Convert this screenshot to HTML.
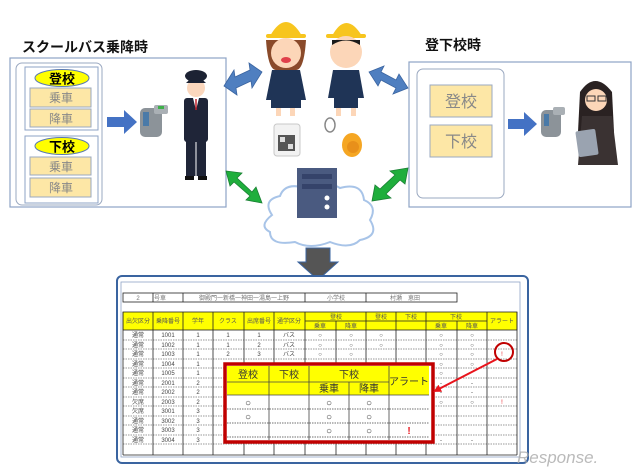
<!DOCTYPE html>
<html><head><meta charset="utf-8"><style>
html,body{margin:0;padding:0;background:#fff;}
svg{display:block;font-family:"Liberation Sans","Noto Sans CJK JP",sans-serif;}
</style></head><body>
<svg width="640" height="475" viewBox="0 0 640 475" xmlns="http://www.w3.org/2000/svg">
<defs>
<marker id="ra" markerWidth="8" markerHeight="8" refX="6" refY="4" orient="auto" markerUnits="userSpaceOnUse"><path d="M0,0 L8,4 L0,8 z" fill="#e8141c"/></marker>
</defs>
<!-- titles -->
<text x="22" y="52" font-size="14" font-weight="bold" fill="#111">スクールバス乗降時</text>
<text x="425" y="50" font-size="14" font-weight="bold" fill="#111">登下校時</text>

<!-- left box -->
<rect x="10" y="58" width="216" height="149" fill="#fff" stroke="#8ea3c6" stroke-width="1.2"/>
<rect x="16" y="63" width="86" height="142" rx="6" fill="#fff" stroke="#9aa8c0"/>
<rect x="25" y="67" width="73" height="63" fill="#fff" stroke="#8ea3c6"/>
<ellipse cx="62" cy="78" rx="27" ry="8.5" fill="#ffff00" stroke="#5a7ab0"/>
<text x="62" y="83.5" font-size="13" font-weight="bold" text-anchor="middle">登校</text>
<rect x="30" y="88" width="61" height="19" fill="#fde7a6" stroke="#9aa8c0"/>
<text x="61" y="102" font-size="12" fill="#888" text-anchor="middle">乗車</text>
<rect x="30" y="109" width="61" height="18" fill="#fde7a6" stroke="#9aa8c0"/>
<text x="61" y="123" font-size="12" fill="#888" text-anchor="middle">降車</text>
<rect x="25" y="136" width="73" height="67" fill="#fff" stroke="#8ea3c6"/>
<ellipse cx="62" cy="146" rx="27" ry="8.5" fill="#ffff00" stroke="#5a7ab0"/>
<text x="62" y="151.5" font-size="13" font-weight="bold" text-anchor="middle">下校</text>
<rect x="30" y="157" width="61" height="18" fill="#fde7a6" stroke="#9aa8c0"/>
<text x="61" y="171" font-size="12" fill="#888" text-anchor="middle">乗車</text>
<rect x="30" y="178" width="61" height="19" fill="#fde7a6" stroke="#9aa8c0"/>
<text x="61" y="192" font-size="12" fill="#888" text-anchor="middle">降車</text>
<!-- blue arrow -->
<path d="M107,117 L124,117 L124,110 L137,122 L124,134 L124,127 L107,127 z" fill="#4472c4"/>
<!-- scanner -->
<rect x="140" y="108" width="22" height="29" rx="5" fill="#8c9399"/>
<rect x="143" y="112" width="6" height="14" fill="#4a7aa8"/>
<rect x="154" y="105" width="14" height="9" rx="2" fill="#aab0b5"/>
<rect x="158" y="106" width="6" height="3" fill="#3fb04a"/>
<!-- officer -->
<ellipse cx="196" cy="76" rx="11" ry="6" fill="#1c2233"/>
<circle cx="196" cy="88" r="9" fill="#fbd7bd"/>
<path d="M186,83 Q196,72 206,83 z" fill="#1c2233"/>
<rect x="184" y="98" width="24" height="44" rx="3" fill="#1f2538"/>
<path d="M193,98 L196,110 L199,98 z" fill="#fff"/>
<line x1="196" y1="99" x2="196" y2="110" stroke="#c0202a" stroke-width="1.5"/>
<rect x="186" y="140" width="20" height="36" fill="#1f2538"/>
<line x1="196" y1="142" x2="196" y2="176" stroke="#fff" stroke-width="1"/>
<rect x="185" y="176" width="9" height="4" fill="#111"/><rect x="198" y="176" width="9" height="4" fill="#111"/>

<!-- diagonal arrows -->
<g fill="#4f7fc0" stroke="#3a64a0" stroke-width="0.8">
<path d="M224,86 L234,70 L235,77 L250,70 L249,63 L262,72 L252,88 L251,81 L236,88 L237,95 z"/>
<path d="M369,72 L384,66 L381,72 L396,80 L399,74 L408,88 L393,94 L396,88 L381,80 L378,86 z"/>
</g>
<g fill="#1fae3c" stroke="#197f33" stroke-width="0.8">
<path d="M226,171 L242,173 L237,178 L252,192 L256,187 L262,203 L246,200 L250,196 L234,182 L230,186 z"/>
<path d="M408,168 L405,184 L400,180 L386,194 L391,198 L372,201 L375,185 L380,189 L395,175 L390,171 z"/>
</g>

<!-- children -->
<g>
<path d="M270,36 Q286,8 302,36 z" fill="#f7c51e"/><rect x="266" y="34" width="40" height="4" rx="2" fill="#f7c51e"/>
<path d="M266,40 Q268,70 276,70 L296,70 Q304,70 306,40 z" fill="#8a4a2a"/>
<ellipse cx="286" cy="53" rx="15" ry="15" fill="#fcd6b8"/>
<ellipse cx="286" cy="60" rx="5" ry="3" fill="#e0404a"/>
<path d="M272,70 L300,70 L306,100 L266,100 z" fill="#1f3456"/>
<rect x="271" y="100" width="30" height="8" fill="#1f3456"/>
<rect x="276" y="108" width="5" height="8" fill="#fcd6b8"/><rect x="290" y="108" width="5" height="8" fill="#fcd6b8"/>
<path d="M332,36 Q346,10 362,36 z" fill="#f7c51e"/><rect x="326" y="34" width="40" height="4" rx="2" fill="#f7c51e"/>
<ellipse cx="346" cy="52" rx="16" ry="16" fill="#fcd6b8"/>
<path d="M332,45 Q346,36 360,45 L360,40 L332,40 z" fill="#1b1b1b"/>
<path d="M333,70 L359,70 L364,98 L328,98 z" fill="#1f3456"/>
<rect x="334" y="98" width="24" height="10" fill="#1f3456"/>
<rect x="336" y="108" width="5" height="8" fill="#fcd6b8"/><rect x="351" y="108" width="5" height="8" fill="#fcd6b8"/>
</g>
<!-- qr tag -->
<rect x="274" y="124" width="26" height="32" rx="3" fill="#f2f2f2" stroke="#c8c8c8"/>
<rect x="278" y="135" width="17" height="16" fill="#555"/>
<rect x="280" y="137" width="5" height="5" fill="#ddd"/><rect x="288" y="144" width="5" height="5" fill="#ddd"/>
<!-- fob -->
<ellipse cx="330" cy="125" rx="5" ry="7" fill="none" stroke="#888" stroke-width="1.5"/>
<ellipse cx="352" cy="145" rx="10" ry="12" fill="#f5a623"/>
<circle cx="353" cy="147" r="6" fill="#e8901a"/>

<!-- right box -->
<rect x="409" y="62" width="222" height="145" fill="#fff" stroke="#8ea3c6" stroke-width="1.2"/>
<rect x="417" y="69" width="87" height="129" rx="6" fill="#fff" stroke="#9aa8c0"/>
<rect x="430" y="85" width="62" height="32" fill="#fde7a6" stroke="#9aa8c0"/>
<text x="461" y="107" font-size="16" fill="#888" text-anchor="middle">登校</text>
<rect x="430" y="125" width="62" height="32" fill="#fde7a6" stroke="#9aa8c0"/>
<text x="461" y="147" font-size="16" fill="#888" text-anchor="middle">下校</text>
<path d="M508,119 L524,119 L524,112 L537,124 L524,136 L524,129 L508,129 z" fill="#4472c4"/>
<rect x="541" y="110" width="20" height="27" rx="5" fill="#8c9399"/>
<rect x="544" y="114" width="5" height="12" fill="#4a7aa8"/>
<rect x="553" y="107" width="12" height="8" rx="2" fill="#aab0b5"/>
<!-- woman -->
<path d="M580,92 Q595,70 612,92 L614,132 L578,132 z" fill="#2a2222"/>
<circle cx="596" cy="100" r="11" fill="#fcd6b8"/>
<rect x="587" y="96" width="8" height="5" fill="none" stroke="#333"/><rect x="598" y="96" width="8" height="5" fill="none" stroke="#333"/>
<path d="M582,116 L612,116 L618,165 L578,165 z" fill="#3a3232"/>
<rect x="577" y="130" width="20" height="26" rx="2" fill="#9aa3b0" transform="rotate(-8 587 143)"/>

<!-- server + cloud -->
<path d="M272,215 Q262,200 280,196 Q285,182 305,188 Q320,176 340,188 Q362,182 364,200 Q378,206 370,220 Q380,236 360,240 Q350,250 330,242 Q310,250 295,242 Q270,246 270,232 Q258,226 272,215 z" fill="#fff" stroke="#a8c4e8" stroke-width="2"/>
<rect x="297" y="168" width="40" height="50" fill="#4a5a80"/>
<rect x="302" y="174" width="30" height="5" fill="#35436a"/>
<rect x="302" y="184" width="30" height="5" fill="#35436a"/>
<circle cx="327" cy="198" r="2.5" fill="#fff"/><circle cx="327" cy="207" r="2.5" fill="#fff"/>
<path d="M306,248 L330,248 L330,262 L338,262 L318,280 L298,262 L306,262 z" fill="#555" stroke="#3a64a0" stroke-width="1"/>

<!-- bottom panel -->
<rect x="117" y="276" width="411" height="187" rx="5" fill="#fff" stroke="#3a64a0" stroke-width="2"/>
<rect x="121" y="282" width="399" height="175" fill="#fff" stroke="#8ea3c6" stroke-width="0.8"/>
<g stroke="#222" stroke-width="0.8" fill="none">
<rect x="123" y="293" width="334" height="9"/>
<line x1="153" y1="293" x2="153" y2="302"/><line x1="183" y1="293" x2="183" y2="302"/><line x1="305" y1="293" x2="305" y2="302"/><line x1="366" y1="293" x2="366" y2="302"/>
</g>
<g font-size="6" fill="#777" text-anchor="middle">
<text x="138" y="300">2</text><text x="160" y="300">号車</text><text x="244" y="300">御殿門一新橋一神田一湯島一上野</text><text x="336" y="300">小学校</text><text x="405" y="300">村瀬　恵田</text>
</g>
<rect x="123" y="312" width="394" height="18" fill="#ffff00" stroke="#222" stroke-width="0.8"/>
<g stroke="#222" stroke-width="0.8">
<line x1="305" y1="321" x2="366" y2="321"/><line x1="426" y1="321" x2="487" y2="321"/>
<line x1="366" y1="321" x2="426" y2="321"/>
</g>
<g font-size="6" fill="#555" text-anchor="middle">
<text x="138" y="323">出欠区分</text><text x="168" y="323">乗降番号</text><text x="198" y="323">学年</text><text x="228" y="323">クラス</text><text x="259" y="323">出席番号</text><text x="289" y="323">通学区分</text>
<text x="336" y="319">登校</text><text x="381" y="319">登校</text><text x="411" y="319">下校</text><text x="456" y="319">下校</text><text x="502" y="323">アラート</text>
<text x="320" y="328">乗車</text><text x="351" y="328">降車</text><text x="441" y="328">乗車</text><text x="472" y="328">降車</text>
</g>
<!-- rows -->
<g stroke="#333" stroke-width="0.6" stroke-dasharray="1.5,1">
<line x1="123" y1="340" x2="517" y2="340"/><line x1="123" y1="349" x2="517" y2="349"/><line x1="123" y1="359" x2="517" y2="359"/><line x1="123" y1="368" x2="517" y2="368"/><line x1="123" y1="378" x2="517" y2="378"/><line x1="123" y1="387" x2="517" y2="387"/><line x1="123" y1="397" x2="517" y2="397"/><line x1="123" y1="406" x2="517" y2="406"/><line x1="123" y1="416" x2="517" y2="416"/><line x1="123" y1="425" x2="517" y2="425"/><line x1="123" y1="435" x2="517" y2="435"/><line x1="123" y1="444" x2="517" y2="444"/>
</g>
<g stroke="#222" stroke-width="0.8">
<line x1="123" y1="312" x2="123" y2="455"/><line x1="153" y1="312" x2="153" y2="455"/><line x1="183" y1="312" x2="183" y2="455"/><line x1="213" y1="312" x2="213" y2="455"/><line x1="244" y1="312" x2="244" y2="455"/><line x1="274" y1="312" x2="274" y2="455"/><line x1="305" y1="312" x2="305" y2="455"/><line x1="336" y1="321" x2="336" y2="455"/><line x1="366" y1="312" x2="366" y2="455"/><line x1="396" y1="312" x2="396" y2="455"/><line x1="426" y1="312" x2="426" y2="455"/><line x1="457" y1="321" x2="457" y2="455"/><line x1="487" y1="312" x2="487" y2="455"/><line x1="517" y1="312" x2="517" y2="455"/>
<line x1="123" y1="455" x2="517" y2="455"/>
</g>
<g font-size="6" fill="#444" text-anchor="middle">
<text x="138" y="337">通常</text><text x="168" y="337">1001</text><text x="198" y="337">1</text><text x="228" y="337">1</text><text x="259" y="337">1</text><text x="289" y="337">バス</text><text x="320" y="337">○</text><text x="351" y="337">○</text><text x="381" y="337">○</text><text x="441" y="337">○</text><text x="472" y="337">○</text>
<text x="138" y="347">通常</text><text x="168" y="347">1002</text><text x="198" y="347">1</text><text x="228" y="347">1</text><text x="259" y="347">2</text><text x="289" y="347">バス</text><text x="320" y="347">○</text><text x="351" y="347">○</text><text x="381" y="347">○</text><text x="441" y="347">○</text><text x="472" y="347">○</text>
<text x="138" y="356">通常</text><text x="168" y="356">1003</text><text x="198" y="356">1</text><text x="228" y="356">2</text><text x="259" y="356">3</text><text x="289" y="356">バス</text><text x="320" y="356">○</text><text x="351" y="356">○</text><text x="441" y="356">○</text><text x="472" y="356">○</text><text x="502" y="356" fill="#e8141c">!</text>
<text x="138" y="366">通常</text><text x="168" y="366">1004</text><text x="198" y="366">1</text><text x="441" y="366">○</text><text x="472" y="366">○</text>
<text x="138" y="375">通常</text><text x="168" y="375">1005</text><text x="198" y="375">1</text><text x="441" y="375">○</text>
<text x="138" y="385">通常</text><text x="168" y="385">2001</text><text x="198" y="385">2</text><text x="441" y="385">-</text><text x="472" y="385">-</text>
<text x="138" y="394">通常</text><text x="168" y="394">2002</text><text x="198" y="394">2</text><text x="441" y="394">-</text><text x="472" y="394">-</text>
<text x="138" y="404">欠席</text><text x="168" y="404">2003</text><text x="198" y="404">2</text><text x="441" y="404">○</text><text x="472" y="404">○</text><text x="502" y="404" fill="#e8141c">!</text>
<text x="138" y="413">欠席</text><text x="168" y="413">3001</text><text x="198" y="413">3</text>
<text x="138" y="423">通常</text><text x="168" y="423">3002</text><text x="198" y="423">3</text>
<text x="138" y="432">通常</text><text x="168" y="432">3003</text><text x="198" y="432">3</text>
<text x="138" y="442">通常</text><text x="168" y="442">3004</text><text x="198" y="442">3</text><text x="441" y="442">-</text><text x="472" y="442">-</text>
</g>
<!-- zoom table -->
<rect x="225" y="364" width="208" height="78" fill="#fff" stroke="#c00000" stroke-width="3.5"/>
<rect x="227" y="366" width="202" height="29" fill="#ffff00"/>
<g stroke="#444" stroke-width="0.8">
<line x1="227" y1="382" x2="389" y2="382"/><line x1="227" y1="395" x2="429" y2="395"/>
<line x1="269" y1="366" x2="269" y2="440"/><line x1="309" y1="366" x2="309" y2="440"/><line x1="349" y1="382" x2="349" y2="440"/><line x1="389" y1="366" x2="389" y2="440"/>
</g>
<g stroke="#444" stroke-width="0.8" stroke-dasharray="1.5,1">
<line x1="227" y1="409" x2="429" y2="409"/><line x1="227" y1="423" x2="429" y2="423"/><line x1="227" y1="437" x2="429" y2="437"/>
</g>
<g font-size="10" fill="#333" text-anchor="middle">
<text x="248" y="378">登校</text><text x="289" y="378">下校</text><text x="349" y="378">下校</text><text x="409" y="385">アラート</text>
<text x="329" y="392">乗車</text><text x="369" y="392">降車</text>
<text x="248" y="406">○</text><text x="329" y="406">○</text><text x="369" y="406">○</text>
<text x="248" y="420">○</text><text x="329" y="420">○</text><text x="369" y="420">○</text>
<text x="329" y="434">○</text><text x="369" y="434">○</text><text x="409" y="434" fill="#e8141c" font-weight="bold">!</text>
</g>
<circle cx="504" cy="352" r="9" fill="none" stroke="#c00000" stroke-width="2"/>
<line x1="497" y1="359" x2="435" y2="391" stroke="#e8141c" stroke-width="2" marker-end="url(#ra)"/>
<text x="517" y="463" font-size="17" fill="#aaa" font-style="italic" opacity="0.8">Response.</text>
</svg>
</body></html>
